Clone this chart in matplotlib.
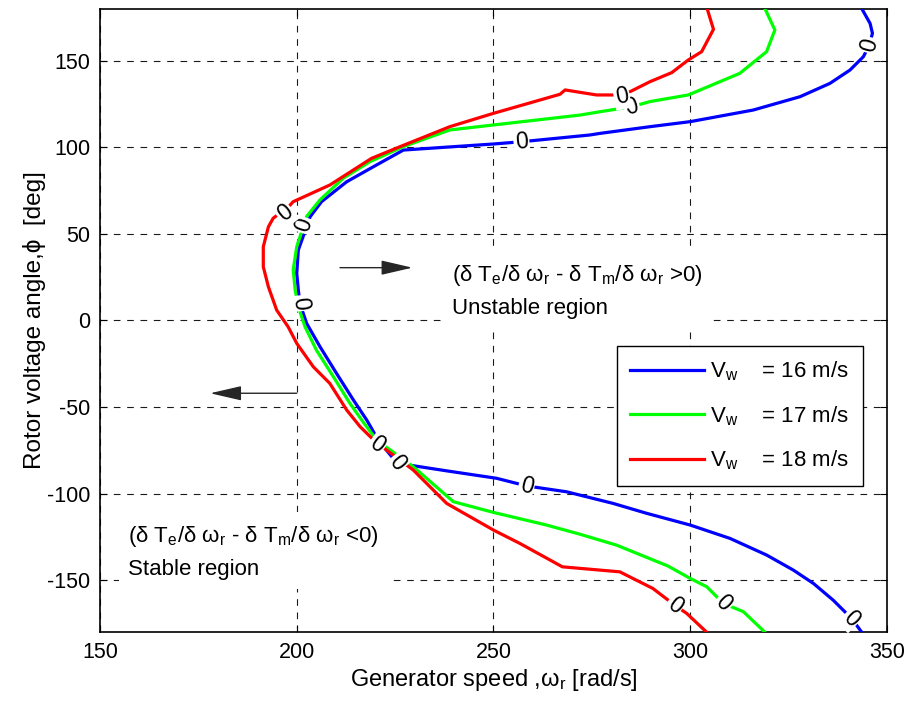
import numpy as np
import matplotlib
matplotlib.use("Agg")
import matplotlib.pyplot as plt

plt.rcParams['font.family'] = ['Liberation Sans', 'DejaVu Sans']
plt.rcParams['mathtext.fontset'] = 'custom'
plt.rcParams['mathtext.rm'] = 'Liberation Sans'
plt.rcParams['mathtext.it'] = 'Liberation Sans'
plt.rcParams['mathtext.sf'] = 'Liberation Sans'
plt.rcParams['axes.unicode_minus'] = False

# zero-level contours (generator speed, rotor voltage angle), top to bottom
speed_16 = [343.6, 345.7, 346.3, 345.5, 344.0, 340.6, 335.5, 327.9, 316.0, 300.0, 289.8, 277.0,
            274.5, 257.1, 250.0, 227.1, 219.5, 212.7, 206.3, 203.4, 202.5, 200.4, 200.0, 200.4,
            200.8, 202.5, 205.9, 210.1, 214.4, 217.8, 220.7, 225.5, 238.1, 250.8, 258.4, 268.6,
            280.4, 288.9, 300.0, 310.1, 319.4, 326.2, 331.3, 336.3, 341.0, 343.6]
angle_16 = [180.0, 171.5, 165.8, 159.0, 152.3, 144.6, 136.9, 129.2, 121.5, 114.8, 111.9, 108.0,
            107.1, 103.2, 101.9, 98.4, 88.8, 80.1, 68.6, 59.9, 54.1, 40.7, 27.2, 17.6,
            9.9, -1.6, -15.1, -30.5, -45.9, -57.5, -69.0, -82.4, -86.8, -91.1, -95.5, -98.9,
            -105.6, -111.3, -118.1, -125.8, -135.4, -144.1, -151.8, -161.4, -172.0, -180.0]

speed_17 = [319.0, 321.5, 319.4, 312.6, 299.5, 289.8, 285.1, 277.0, 272.0, 238.9, 227.1, 218.6,
            211.8, 205.9, 202.5, 200.0, 199.1, 199.6, 200.4, 202.1, 205.0, 209.3, 213.5, 217.0,
            220.3, 229.6, 239.8, 250.0, 263.5, 272.0, 281.3, 294.3, 300.0, 304.2, 308.4, 313.5,
            319.0]
angle_17 = [180.0, 167.7, 155.2, 142.7, 130.2, 126.4, 123.4, 120.5, 118.6, 110.0, 100.4, 91.7,
            82.1, 69.6, 60.0, 42.6, 29.2, 17.6, 8.0, -3.6, -17.1, -32.4, -47.8, -59.0,
            -69.0, -84.4, -104.6, -110.8, -118.1, -123.4, -129.7, -141.7, -148.9, -153.7, -163.3, -168.1,
            -180.0]

speed_18 = [304.3, 305.9, 302.9, 299.5, 295.3, 289.8, 284.7, 280.4, 276.2, 268.2, 266.9, 250.0,
            238.9, 226.2, 219.0, 208.4, 199.1, 198.3, 194.0, 192.8, 191.5, 191.5, 192.8, 194.9,
            197.8, 200.0, 204.2, 208.4, 212.7, 216.1, 220.0, 229.6, 238.1, 250.0, 256.7, 267.5,
            272.0, 282.1, 290.5, 296.1, 299.1, 304.2]
angle_18 = [180.0, 168.1, 155.2, 150.4, 143.1, 137.9, 132.1, 130.2, 130.2, 133.1, 130.6, 119.6,
            111.9, 100.3, 93.6, 78.2, 68.6, 66.6, 59.0, 54.1, 42.6, 31.0, 19.4, 6.0,
            -3.6, -13.2, -26.7, -36.3, -51.7, -61.3, -70.0, -86.3, -105.6, -121.0, -128.7, -142.2,
            -143.1, -145.1, -154.7, -164.4, -169.1, -180.0]

# where the "0" contour labels sit
label_pts_16 = [(345.5, 159.0), (257.1, 103.2), (200.8, 9.9), (225.5, -82.4), (258.4, -95.5), (341.0, -172.0)]
label_pts_17 = [(285.1, 123.4), (201.8, 55.0), (220.5, -71.5), (308.4, -163.3)]
label_pts_18 = [(197.0, 62.0), (282.6, 129.4), (296.1, -164.4)]

legend_labels = ['V$_w$    = 16 m/s', 'V$_w$    = 17 m/s', 'V$_w$    = 18 m/s']
colors = ['#0000ff', '#00ff00', '#ff0000']

fig = plt.figure(figsize=(9.09, 7.02), dpi=100)
ax = fig.add_axes([0.110, 0.0993, 0.8658, 0.8883])
ax.set_xlim(150, 350)
ax.set_ylim(-180, 180)
ax.set_xticks(np.arange(150, 351, 50))
ax.set_yticks(np.arange(-150, 151, 50))
ax.tick_params(direction='in', length=5, labelsize=15.5, top=True, right=True, pad=7)
for s in ax.spines.values():
    s.set_linewidth(1.2)
ax.grid(True, color='0.1', linestyle=(0, (6, 6)), linewidth=0.8)
ax.set_axisbelow(True)

curves = [(speed_16, angle_16, label_pts_16), (speed_17, angle_17, label_pts_17),
          (speed_18, angle_18, label_pts_18)]
for (xs, ys, lbls), c, lab in zip(curves, colors, legend_labels):
    ax.plot(xs, ys, color=c, lw=2.3, label=lab, zorder=3)


def seg_angle(xs, ys, p):
    pts = ax.transData.transform(np.column_stack([xs, ys]))
    q = ax.transData.transform([p])[0]
    best, ang = 1e9, 0
    for i in range(len(pts) - 1):
        a, b = pts[i], pts[i + 1]
        d = b - a
        t = np.clip(np.dot(q - a, d) / max(np.dot(d, d), 1e-9), 0, 1)
        dist = np.linalg.norm(a + t * d - q)
        if dist < best:
            best = dist
            ang = np.degrees(np.arctan2(d[1], d[0]))
    if ang > 90:
        ang -= 180
    if ang <= -90:
        ang += 180
    return ang


for xs, ys, lbls in curves:
    for p in lbls:
        ax.text(p[0], p[1], '0', fontsize=16.5, ha='center', va='center',
                rotation=seg_angle(xs, ys, p), rotation_mode='anchor', zorder=5,
                bbox=dict(facecolor='white', edgecolor='none', pad=1.2))

ax.text(239.5, 17.0, '(δ T$_e$/δ ω$_r$ - δ T$_m$/δ ω$_r$ >0)\nUnstable region',
        fontsize=16, ha='left', va='center', linespacing=1.6, zorder=4,
        bbox=dict(facecolor='white', edgecolor='none', pad=7))
ax.text(157.2, -133.5, '(δ T$_e$/δ ω$_r$ - δ T$_m$/δ ω$_r$ <0)\nStable region',
        fontsize=16, ha='left', va='center', linespacing=1.6, zorder=4,
        bbox=dict(facecolor='white', edgecolor='none', pad=7))

arrow_style = '-|>,head_length=1.3,head_width=0.3'
ax.annotate('', xy=(229.4, 30.5), xytext=(211.0, 30.5),
            arrowprops=dict(arrowstyle=arrow_style, color='0.15', lw=1.0, mutation_scale=15,
                            shrinkA=0, shrinkB=0), zorder=4)
ax.annotate('', xy=(178.0, -42.0), xytext=(200.0, -42.0),
            arrowprops=dict(arrowstyle=arrow_style, color='0.15', lw=1.0, mutation_scale=15,
                            shrinkA=0, shrinkB=0), zorder=4)

leg = ax.legend(loc='upper left', bbox_to_anchor=(0.657, 0.459), fontsize=16,
                handlelength=3.3, handletextpad=0.3, labelspacing=0.95, borderpad=0.6,
                borderaxespad=0, fancybox=False, framealpha=1, edgecolor='black')
leg.get_frame().set_linewidth(1.0)
leg.set_zorder(6)

ax.set_xlabel('Generator speed ,ω$_r$ [rad/s]', fontsize=17, labelpad=3)
ax.set_ylabel('Rotor voltage angle,ϕ  [deg]', fontsize=17.5, labelpad=1)

fig.savefig('out.png', dpi=100)
